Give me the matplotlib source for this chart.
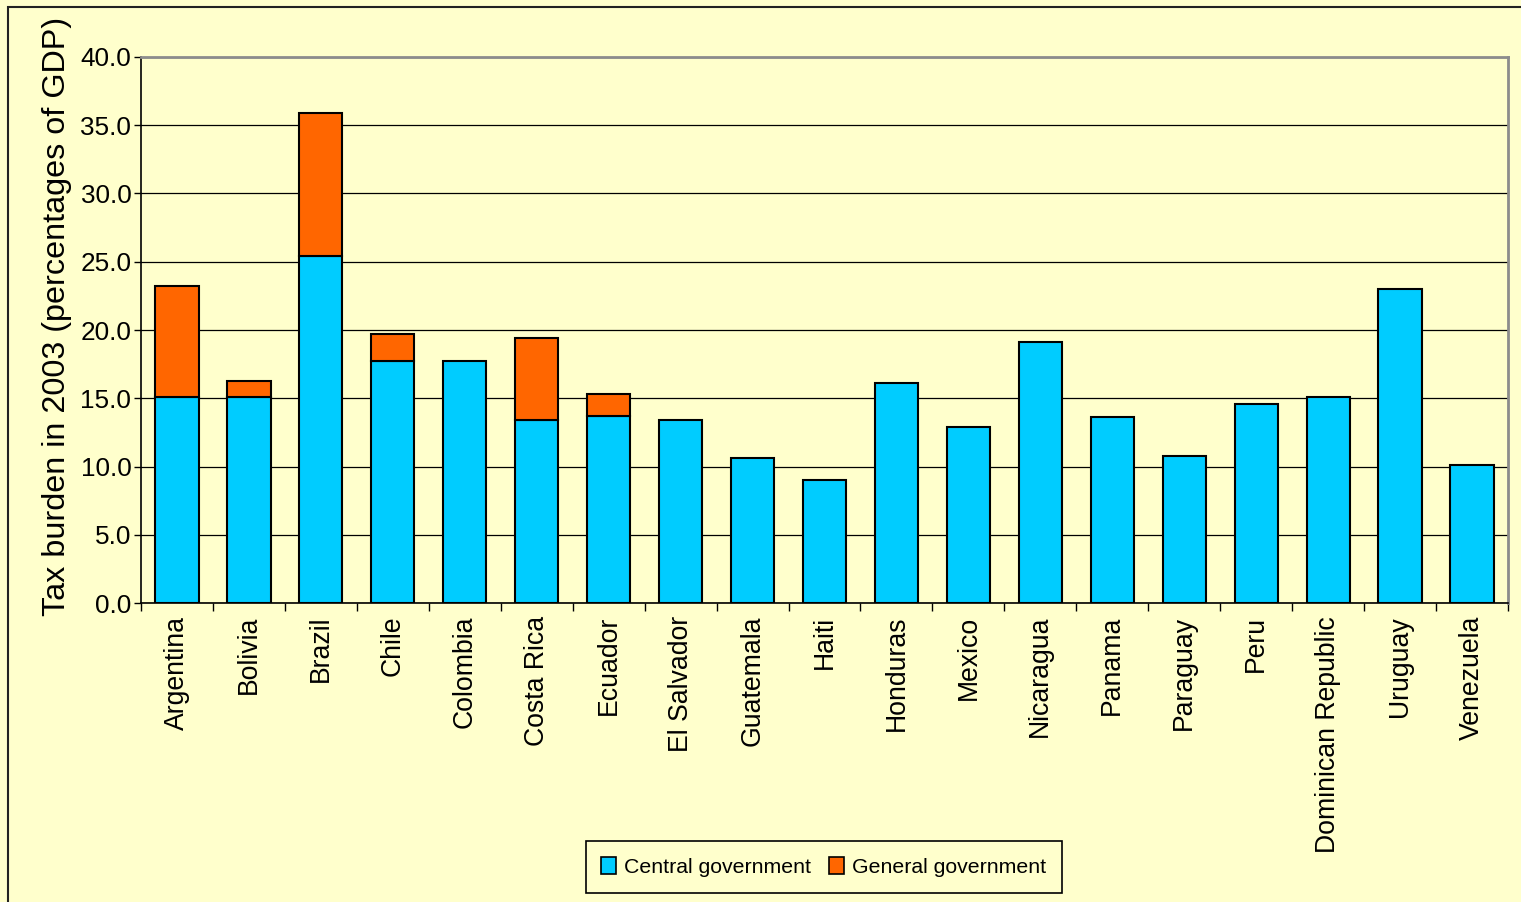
"""
Tax burden in Latin America, 2003.
Stacked bars: central government taxes plus the extra collected at
general government level (where reported), as a share of GDP.
"""

import matplotlib
matplotlib.use("Agg")
import matplotlib.pyplot as plt
import matplotlib.patches as mpatches
import numpy as np

COUNTRIES = [
    "Argentina", "Bolivia", "Brazil", "Chile", "Colombia", "Costa Rica",
    "Ecuador", "El Salvador", "Guatemala", "Haiti", "Honduras", "Mexico",
    "Nicaragua", "Panama", "Paraguay", "Peru", "Dominican Republic",
    "Uruguay", "Venezuela",
]

# % of GDP
CENTRAL = [15.1, 15.1, 25.4, 17.7, 17.7, 13.4, 13.7, 13.4, 10.6, 9.0,
           16.1, 12.9, 19.1, 13.6, 10.8, 14.6, 15.1, 23.0, 10.1]
# general government total, nan where only central figures exist
GENERAL = [23.2, 16.3, 35.9, 19.7, np.nan, 19.4, 15.3, np.nan, np.nan, np.nan,
           np.nan, np.nan, np.nan, np.nan, np.nan, np.nan, np.nan, np.nan, np.nan]

Y_TICKS = [0, 5, 10, 15, 20, 25, 30, 35, 40]

BG = "#FFFFCC"
CYAN = "#00CCFF"
ORANGE = "#FF6600"
W, H = 1521, 902

plt.rcParams["font.family"] = ["Liberation Sans", "DejaVu Sans"]

fig = plt.figure(figsize=(W / 100, H / 100), dpi=100, facecolor=BG)
ax = fig.add_axes([141 / W, (H - 603.3) / H, (1508 - 141) / W, (603.3 - 56.7) / H])
ax.set_facecolor(BG)

x = np.arange(len(COUNTRIES))
central = np.array(CENTRAL)
general = np.array(GENERAL)
has_gen = ~np.isnan(general)

bar_kw = dict(width=0.6, edgecolor="black", linewidth=1.5, zorder=3)
ax.bar(x, central, color=CYAN, **bar_kw)
ax.bar(x[has_gen], general[has_gen] - central[has_gen],
       bottom=central[has_gen], color=ORANGE, **bar_kw)

# axes / grid
ax.set_xlim(-0.5, len(COUNTRIES) - 0.5)
ax.set_ylim(0, 40)
ax.set_yticks(Y_TICKS)
ax.set_yticklabels([f"{v:.1f}" for v in Y_TICKS], fontsize=18.8)
ax.yaxis.grid(True, color="black", linewidth=0.9, zorder=1)
ax.set_axisbelow(True)
ax.tick_params(axis="y", direction="out", length=5, width=1, pad=2)

ax.set_xticks(x)
ax.set_xticklabels(COUNTRIES, rotation=90, fontsize=19.2, va="top")
ax.set_xticks(np.arange(len(COUNTRIES) + 1) - 0.5, minor=True)
ax.tick_params(axis="x", which="major", length=0, pad=9)
ax.tick_params(axis="x", which="minor", direction="out", length=6, width=1)

for side in ("left", "bottom"):
    ax.spines[side].set_color("black")
    ax.spines[side].set_linewidth(1.2)
for side in ("top", "right"):
    ax.spines[side].set_color("#8C8C8C")
    ax.spines[side].set_linewidth(2)

fig.text(57 / W, 1 - 316 / H, "Tax burden in 2003 (percentages of GDP)",
         rotation=90, ha="center", va="center", fontsize=23.3)

# legend below the plot
handles = [
    mpatches.Patch(facecolor=CYAN, edgecolor="black", linewidth=1.2,
                   label="Central government"),
    mpatches.Patch(facecolor=ORANGE, edgecolor="black", linewidth=1.2,
                   label="General government"),
]
leg = fig.legend(handles=handles, loc="center", ncol=2,
                 bbox_to_anchor=(824 / W, 1 - 867 / H), fontsize=15.3,
                 frameon=True, fancybox=False, framealpha=1,
                 facecolor=BG, edgecolor="black",
                 handlelength=0.7, handleheight=0.8, handletextpad=0.38,
                 columnspacing=0.85, borderpad=0.75)
leg.get_frame().set_linewidth(1.2)

# outer chart border (top/left visible, rest runs off the canvas)
fig.patches.append(mpatches.Rectangle(
    (8 / W, -0.1), 1.2, 0.1 + 1 - 7 / H, transform=fig.transFigure,
    fill=False, edgecolor="#222222", linewidth=1.5, clip_on=False))

plt.savefig("out.png", dpi=100, facecolor=BG)
plt.close()
